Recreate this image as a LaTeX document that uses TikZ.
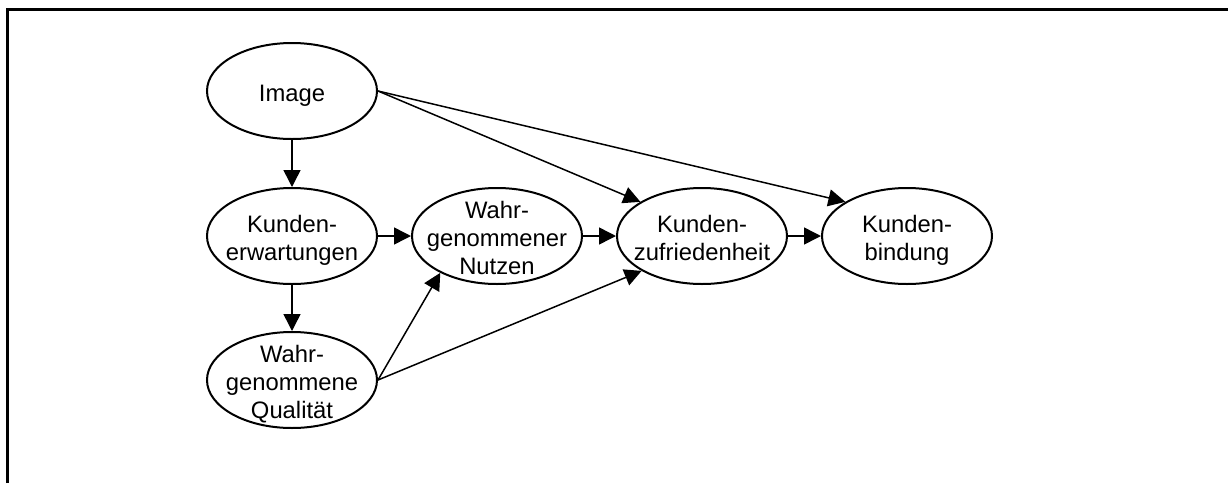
\documentclass[tikz,border=0pt]{standalone}
\usepackage{fontspec}
\setmainfont{Liberation Sans}
\usetikzlibrary{shapes.geometric}
\usetikzlibrary{arrows.meta}
\newcommand{\zeilen}[1]{\raisebox{-5.3pt}[0pt][0pt]{\makebox[0pt]{\begin{tabular}{@{}c@{}}#1\end{tabular}}}}
\tikzset{
	konstrukt/.style={
			draw, ellipse, line width=1pt, minimum width=85pt, minimum height=48pt,
			inner sep=0pt, font=\fontsize{11.9}{14}\selectfont
		},
	pfeil/.style={line width=0.75pt, -{Triangle[length=8.5pt,width=8.5pt]}}
}

\begin{document}
\begin{tikzpicture}[x=0.5pt,y=-0.5pt]
			\useasboundingbox (0,0) rectangle (1228,483);
			\draw[line width=1.5pt] (7.5,483) -- (7.5,9.5) -- (1228,9.5);
			\node[konstrukt] (image) at (292,91) {\zeilen{Image}};
			\node[konstrukt] (erwartung) at (292,236) {\zeilen{Kunden-\\erwartungen}};
			\node[konstrukt] (qualitaet) at (292,380) {\zeilen{Wahr-\\genommene\\Qualität}};
			\node[konstrukt] (nutzen) at (497,236) {\zeilen{Wahr-\\genommener\\Nutzen}};
			\node[konstrukt] (zufriedenheit) at (702,236) {\zeilen{Kunden-\\zufriedenheit}};
			\node[konstrukt] (bindung) at (907,236) {\zeilen{Kunden-\\bindung}};
			\draw[pfeil] (image) -- (erwartung);
			\draw[pfeil] (erwartung) -- (qualitaet);
			\draw[pfeil] (erwartung) -- (nutzen);
			\draw[pfeil] (nutzen) -- (zufriedenheit);
			\draw[pfeil] (zufriedenheit) -- (bindung);
			\draw[pfeil] (image.east) -- (zufriedenheit.151);
			\draw[pfeil] (image.east) -- (bindung.151);
			\draw[pfeil] (qualitaet.east) -- (nutzen.213);
			\draw[pfeil] (qualitaet.east) -- (zufriedenheit.210);
		\end{tikzpicture}
\end{document}
